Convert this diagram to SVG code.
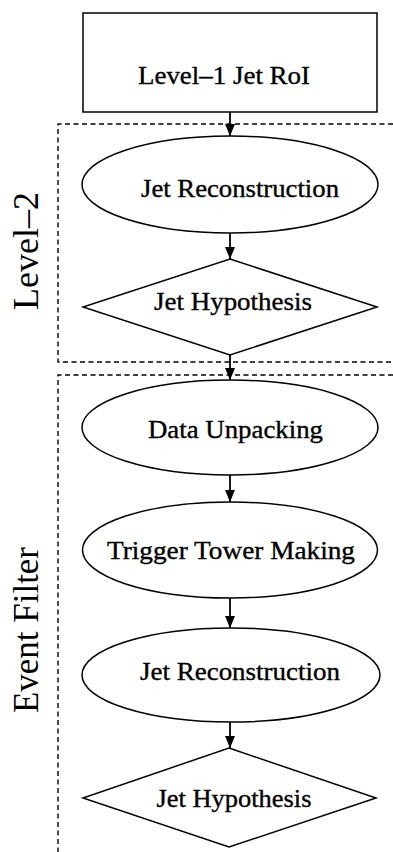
<svg xmlns="http://www.w3.org/2000/svg" width="393" height="852" viewBox="0 0 393 852">
<style>
.shape{fill:#fff;stroke:#000;stroke-width:1.5}
.lbl{font-family:"Liberation Serif","Times New Roman",serif;font-size:25px;fill:#000;stroke:#000;stroke-width:0.35;text-anchor:middle}
.side{font-family:"Liberation Serif","Times New Roman",serif;font-size:36px;fill:#000;text-anchor:middle}
.box{fill:none;stroke:#000;stroke-width:1.4;stroke-dasharray:5 3.5}
.conn{stroke:#000;stroke-width:1.8;fill:none;marker-end:url(#ah)}
</style>
<defs>
<marker id="ah" markerUnits="userSpaceOnUse" markerWidth="13" markerHeight="10" refX="12" refY="5" orient="auto">
<path d="M0,0 L12,5 L0,10 z" fill="#000"/>
</marker>
</defs>
<rect width="393" height="852" fill="#fff"/>
<g id="groups">
<path class="box" d="M393,124 H58 V362 H393"/>
<path class="box" d="M393,375 H58 V852"/>
<text class="side" transform="translate(38,251) rotate(-90)">Level–2</text>
<text class="side" transform="translate(38,630) rotate(-90)" textLength="166" lengthAdjust="spacingAndGlyphs">Event Filter</text>
</g>
<g id="connectors">
<line class="conn" x1="230" y1="112" x2="230" y2="136"/>
<line class="conn" x1="230" y1="233" x2="230" y2="259"/>
<line class="conn" x1="230" y1="355" x2="230" y2="380"/>
<line class="conn" x1="230" y1="475" x2="230" y2="502"/>
<line class="conn" x1="230" y1="598" x2="230" y2="628"/>
<line class="conn" x1="230" y1="722" x2="230" y2="748"/>
</g>
<g id="l1roi">
<rect class="shape" x="83" y="13" width="294" height="99"/>
<text class="lbl" x="224" y="84" textLength="172" lengthAdjust="spacingAndGlyphs">Level–1 Jet RoI</text>
</g>
<g id="l2jetreco">
<ellipse class="shape" cx="230" cy="184.5" rx="148" ry="48.5"/>
<text class="lbl" x="240" y="197" textLength="198" lengthAdjust="spacingAndGlyphs">Jet Reconstruction</text>
</g>
<g id="l2jethypo">
<polygon class="shape" points="230,259 377,307 230,355 83,307"/>
<text class="lbl" x="233" y="310" textLength="158" lengthAdjust="spacingAndGlyphs">Jet Hypothesis</text>
</g>
<g id="efunpack">
<ellipse class="shape" cx="230" cy="427.5" rx="148" ry="47.5"/>
<text class="lbl" x="235.5" y="438" textLength="175" lengthAdjust="spacingAndGlyphs">Data Unpacking</text>
</g>
<g id="eftower">
<ellipse class="shape" cx="230" cy="550" rx="147.5" ry="48"/>
<text class="lbl" x="231" y="559" textLength="248" lengthAdjust="spacingAndGlyphs">Trigger Tower Making</text>
</g>
<g id="efjetreco">
<ellipse class="shape" cx="231" cy="675" rx="149" ry="47"/>
<text class="lbl" x="240" y="680" textLength="200" lengthAdjust="spacingAndGlyphs">Jet Reconstruction</text>
</g>
<g id="efjethypo">
<polygon class="shape" points="229,748 376,798 229,847 83,798"/>
<text class="lbl" x="234" y="807" textLength="155" lengthAdjust="spacingAndGlyphs">Jet Hypothesis</text>
</g>
</svg>
